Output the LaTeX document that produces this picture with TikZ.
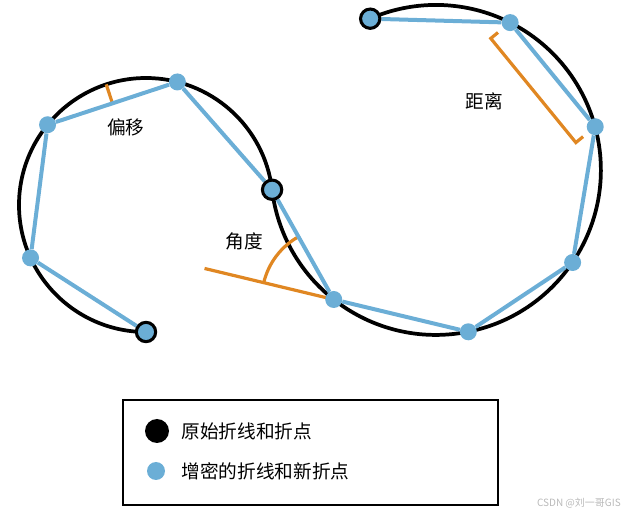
\documentclass[tikz,border=0pt]{standalone}
\usepackage{fontspec}
\newfontfamily\cjk{Noto Sans CJK SC}
\usepackage{tikz}
\usetikzlibrary{positioning,calc,backgrounds}
\definecolor{ptblue}{RGB}{107,174,214}
\definecolor{markorange}{RGB}{224,135,34}

\begin{document}
\begin{tikzpicture}[
    x=0.75pt, y=0.75pt,
    font=\cjk\fontsize{14}{16}\selectfont,
    origpt/.style={circle, draw=black, line width=2.3pt, fill=ptblue,
                   inner sep=0pt, minimum size=14.5pt},
    newpt/.style={circle, fill=ptblue, inner sep=0pt, minimum size=12.75pt},
    origline/.style={line width=2.8pt},
    newline/.style={draw=ptblue, line width=3pt},
    annot/.style={draw=markorange, line width=2.4pt},
    lbl/.style={inner sep=0pt}
]
\useasboundingbox (0,0) rectangle (626,515);
\coordinate (lc) at (146,310);
\coordinate (rc) at (436,345);

% vertices on the two tangent circles
\node[origpt] (v0) at ($(lc)+(270:127)$) {};
\node[newpt] (v1) at ($(lc)+(204.6:127)$) {};
\node[newpt] (v2) at ($(lc)+(140.8:127)$) {};
\node[newpt] (v3) at ($(lc)+(75.7:127)$) {};
\node[origpt] (v4) at ($(lc)+(6.9:127)$) {};
\node[newpt] (v5) at ($(rc)+(231.7:165)$) {};
\node[newpt] (v6) at ($(rc)+(281.3:165)$) {};
\node[newpt] (v7) at ($(rc)+(325.9:165)$) {};
\node[newpt] (v8) at ($(rc)+(15.2:165)$) {};
\node[newpt] (v9) at ($(rc)+(63.3:165)$) {};
\node[origpt] (v10) at ($(rc)+(113.5:165)$) {};

\begin{scope}[on background layer]
\draw[origline] (v0.center) arc[start angle=270, end angle=6.9, radius=127]
    arc[start angle=186.9, end angle=473.5, radius=165];
% offset, angle
\draw[annot] ($(v2)!0.5!(v3)$) -- ($(lc)+(108.25:127)$);
\draw[annot] (v5.center) -- ($(v6)!1.96!(v5)$);
\draw[annot] ($(v5)+(166.5:72)$) arc[start angle=166.5, end angle=119.3, radius=72];
\draw[newline] (v0) -- (v1) -- (v2) -- (v3) -- (v4) -- (v5) -- (v6)
    -- (v7) -- (v8) -- (v9) -- (v10);
\end{scope}

% distance bracket
\coordinate (b1) at ($(v9)!18.75pt!-90:(v8)$);
\coordinate (b2) at ($(v8)!18.75pt!90:(v9)$);
\draw[annot] ($(b1)!7pt!(v9)$) -- (b1) -- (b2) -- ($(b2)!7pt!(v8)$);

\node[lbl] (offlbl) at (126,388) {偏移};
\node[lbl] (anglbl) at (244,274) {角度};
\node[lbl] (dislbl) at (484,414) {距离};

% legend
\draw[line width=1.5pt] (123,10) rectangle (498,115);
\node[circle, fill=black, inner sep=0pt, minimum size=18pt] (k1) at (157,84) {};
\node[lbl, right=9pt of k1] (t1) {原始折线和折点};
\node[newpt, minimum size=13.5pt] (k2) at (156,44) {};
\node[lbl, right=12pt of k2] (t2) {增密的折线和新折点};

\node[lbl, anchor=east, text=gray!55, font=\cjk\fontsize{7.5}{9}\selectfont]
    (wm) at (621,12) {CSDN @刘一哥GIS};
\end{tikzpicture}
\end{document}
